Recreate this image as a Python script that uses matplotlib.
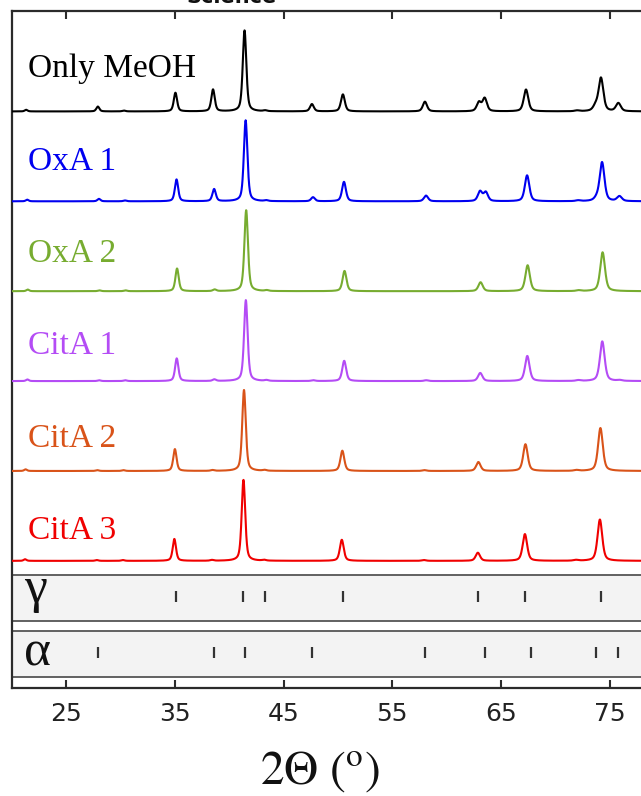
"""Stacked XRD patterns of the MeOH / OxA / CitA samples with gamma and alpha reference bars."""

import matplotlib
import matplotlib.pyplot as plt
import numpy as np
from matplotlib.patches import Rectangle

matplotlib.use("Agg")
plt.rcParams["mathtext.fontset"] = "stix"

SAMPLES = ["Only MeOH", "OxA 1", "OxA 2", "CitA 1", "CitA 2", "CitA 3"]
COLORS = ["#000000", "#0000f0", "#77ac30", "#b44cf5", "#d95319", "#f00000"]

# reflections seen in the patterns (2-theta, deg)
PEAK_POS = [21.3, 27.9, 30.3, 35.04, 38.5, 41.4, 43.3, 47.6, 50.45, 58.0,
            62.97, 63.5, 67.3, 72.0, 73.7, 74.2, 75.8]

# relative intensities (%) in PEAK_POS order
I_MEOH = [2, 6, 1, 23, 27, 100, 1, 9, 21, 12, 11, 16, 27, 1, 6, 41, 10]
I_OXA1 = [2, 3, 1, 27, 15, 100, 1, 5, 24, 7, 12, 11, 32, 1, 3, 48, 6]
I_OXA2 = [2, 1, 1, 28, 2, 100, 1, 0, 25, 0, 11, 0, 32, 1, 0, 48, 0]
I_CITA1 = [2, 1, 1, 28, 2, 100, 1, 1, 25, 1, 10, 0, 31, 1, 0, 49, 1]
I_CITA2 = [2, 1, 1, 27, 1, 100, 1, 0, 25, 1, 11, 0, 33, 1, 0, 53, 0]
I_CITA3 = [2, 1, 1, 27, 1, 100, 1, 0, 26, 1, 10, 0, 33, 1, 0, 51, 0]
INTENSITIES = [I_MEOH, I_OXA1, I_OXA2, I_CITA1, I_CITA2, I_CITA3]

# small peak shift of each sample (deg)
SHIFT = [0.0, 0.1, 0.15, 0.12, -0.05, -0.1]

# reference line positions
GAMMA_REFS = [35.05, 41.25, 43.3, 50.47, 62.9, 67.2, 74.2]
ALPHA_REFS = [27.9, 38.6, 41.45, 47.65, 58.0, 63.5, 67.75, 73.7, 75.8]

XTICKS = [25, 35, 45, 55, 65, 75]

TOP_OFFSET = 712
STEP = 111
LABEL_TOP = 754
LABEL_STEP = 114
GAMMA_BAND = (82.7, 139.5)
ALPHA_BAND = (13.6, 70.4)
FRAME = "#2b2b2b"


def pattern(x, pos, inten, shift):
    y = np.zeros_like(x)
    for c, h in zip(pos, inten):
        if h <= 0:
            continue
        c = c + shift
        w = 0.3 + 0.004 * (c - 20)
        d = (x - c) / w
        lor = 1 / (1 + 4 * d**2)
        gau = np.exp(-4 * np.log(2) * d**2)
        y += h * (0.5 * lor + 0.5 * gau)
    return y


W, H = 641, 796
fig = plt.figure(figsize=(W / 100, H / 100), dpi=100)
ax = fig.add_axes([12 / W, 108 / H, 652 / W, 677 / H])
ax.set_xlim(20, 80)
ax.set_ylim(0, 836)

x = np.linspace(20, 80, 4000)
for k, (name, col) in enumerate(zip(SAMPLES, COLORS)):
    off = TOP_OFFSET - STEP * k
    ax.plot(x, off + pattern(x, PEAK_POS, INTENSITIES[k], SHIFT[k]),
            color=col, lw=1.5, solid_joinstyle="round", zorder=3)
    ax.text(21.5, LABEL_TOP - LABEL_STEP * k, name, color=col,
            fontsize=24, family="Liberation Serif", va="baseline", ha="left")

# reference bands
for (lo, hi), refs, sym, sym_y in [
    (GAMMA_BAND, GAMMA_REFS, "γ", 106),
    (ALPHA_BAND, ALPHA_REFS, "α", 28.4),
]:
    ax.add_patch(Rectangle((20, lo), 60, hi - lo, facecolor="#f3f3f3",
                           edgecolor="none", zorder=1))
    ax.axhline(lo, color="#555555", lw=1.3, zorder=2)
    ax.axhline(hi, color="#555555", lw=1.3, zorder=2)
    mid = (lo + hi) / 2 + 1.5
    ax.vlines(refs, mid - 7, mid + 7, color="#333333", lw=1.6, zorder=3)
    ax.text(21.1, sym_y, sym, fontsize=37, family="Liberation Serif",
            va="baseline", ha="left", color="#111111")

for s in ax.spines.values():
    s.set_color(FRAME)
    s.set_linewidth(1.6)

ax.set_xticks(XTICKS)
ax.set_yticks([])
ax.tick_params(axis="x", direction="in", top=True, bottom=True, length=6,
               width=1.5, color=FRAME, labelsize=18, pad=10,
               labelcolor="#222222")

fig.text(320 / W, 12 / H, r"$\mathrm{2\Theta\ (^{o})}$", fontsize=34,
         ha="center", va="baseline", color="#111111")
fig.text(232 / W, 1 - 3 / H, "Science", fontsize=15, fontweight="bold",
         ha="center", va="baseline", color="#111111")

fig.savefig("out.png", dpi=100)
